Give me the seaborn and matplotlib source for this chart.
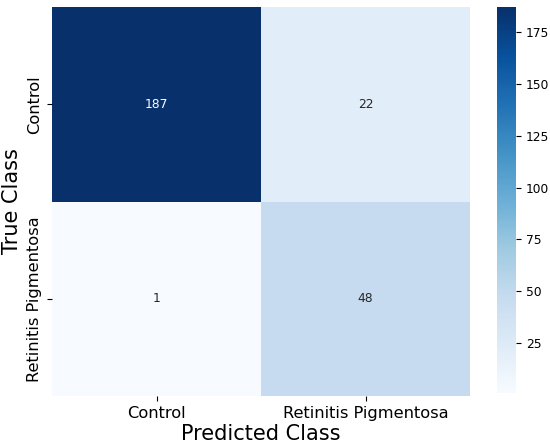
import numpy as np
import seaborn as sns
import matplotlib.pyplot as plt

# confusion matrix values
class_names = ["Control", "Retinitis Pigmentosa"]
row_control = [187, 22]
row_rp = [1, 48]

cm = np.array([row_control, row_rp])

fig = plt.figure(figsize=(5.5, 4.46), dpi=100)
ax = fig.add_axes([52 / 550, 50 / 446, 418 / 550, 389 / 446])
cax = fig.add_axes([497 / 550, 53 / 446, 19 / 550, 386 / 446])

sns.heatmap(
    cm,
    annot=True,
    fmt="d",
    cmap="Blues",
    xticklabels=class_names,
    yticklabels=class_names,
    annot_kws={"fontsize": 8.8},
    ax=ax,
    cbar_ax=cax,
)

ax.set_xlabel("Predicted Class", fontsize=15, labelpad=2)
ax.set_ylabel("True Class", fontsize=15, labelpad=4)
ax.tick_params(axis="both", labelsize=11.7)
plt.setp(ax.get_yticklabels(), rotation=90, va="center")
cax.tick_params(labelsize=8.8)

plt.savefig("out.png", dpi=100)
